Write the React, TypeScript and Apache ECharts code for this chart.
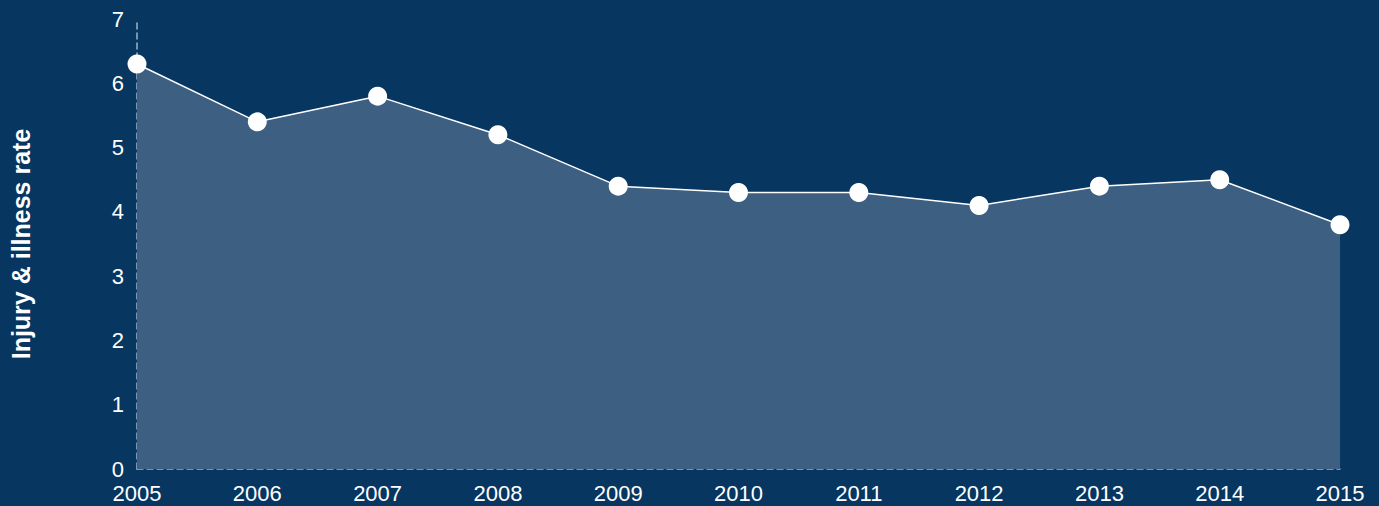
import React, { useEffect, useRef } from "react";
import * as echarts from "echarts";

const years = ["2005", "2006", "2007", "2008", "2009", "2010", "2011", "2012", "2013", "2014", "2015"];
const rates = [6.3, 5.4, 5.8, 5.2, 4.4, 4.3, 4.3, 4.1, 4.4, 4.5, 3.8];
const yTicks = [0, 1, 2, 3, 4, 5, 6, 7];

export default function App() {
  const ref = useRef<HTMLDivElement>(null);
  useEffect(() => {
    if (!ref.current) return;
    const chart = echarts.init(ref.current, undefined, { renderer: "svg" });
    const font = "Arial, 'Liberation Sans', Helvetica, sans-serif";
    chart.setOption({
      animation: false,
      backgroundColor: "#073661",
      grid: { left: 136, right: 39, top: 19, bottom: 37 },
      xAxis: {
        type: "category",
        data: years,
        boundaryGap: false,
        axisLine: { show: true, lineStyle: { color: "#a3b4c7", type: [6, 4], width: 1.5 } },
        axisTick: { show: false },
        axisLabel: { color: "#ffffff", fontSize: 22, fontFamily: font, margin: 13 },
        splitLine: { show: false },
      },
      yAxis: {
        type: "value",
        min: yTicks[0],
        max: yTicks[yTicks.length - 1],
        interval: 1,
        name: "Injury & illness rate",
        nameLocation: "middle",
        nameGap: 104,
        nameTextStyle: { color: "#ffffff", fontSize: 25, fontWeight: "bold", fontFamily: font },
        axisLine: { show: true, lineStyle: { color: "#a3b4c7", type: [6, 4], width: 1.5 } },
        axisTick: { show: false },
        axisLabel: { color: "#ffffff", fontSize: 22, fontFamily: font, margin: 13 },
        splitLine: { show: false },
      },
      series: [
        {
          type: "line",
          data: rates,
          symbol: "circle",
          symbolSize: 19,
          z: 1,
          lineStyle: { color: "#ffffff", width: 1.5 },
          itemStyle: { color: "#ffffff" },
          areaStyle: { color: "#3c5f82", opacity: 1 },
        },
      ],
    });
    return () => chart.dispose();
  }, []);
  return <div ref={ref} style={{ position: "fixed", left: 0, top: 0, width: 1379, height: 506 }} />;
}
